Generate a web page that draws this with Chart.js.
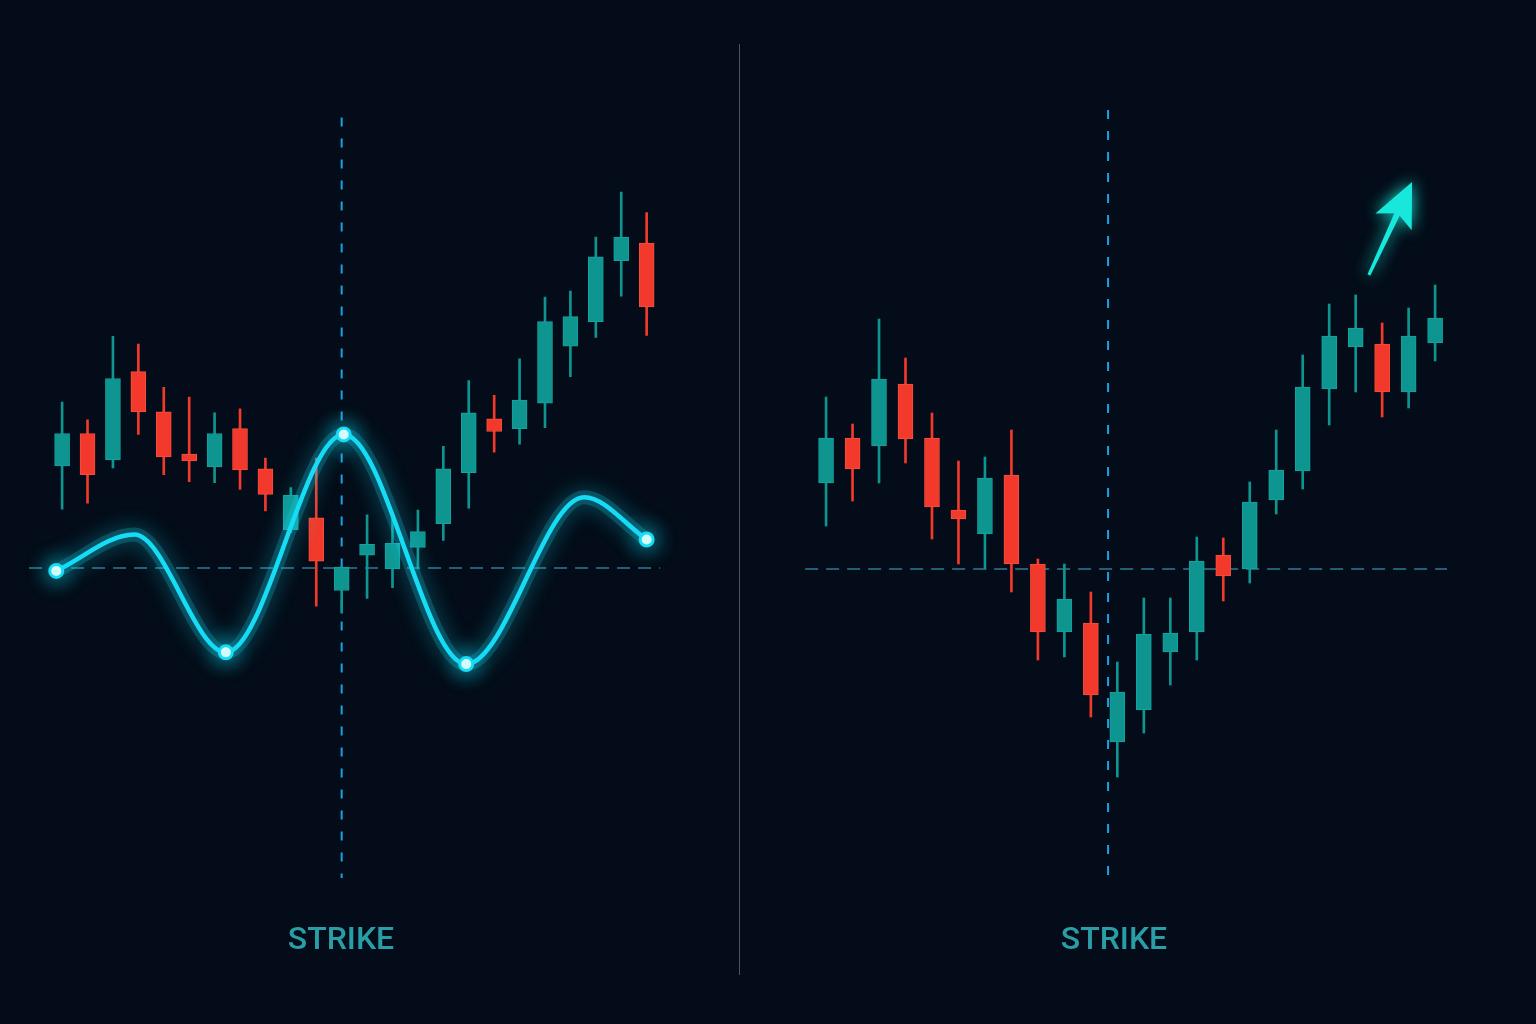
<!DOCTYPE html>
<html>
<head>
<meta charset="utf-8">
<title>Strike</title>
<script src="https://cdn.jsdelivr.net/npm/chart.js@4.4.1/dist/chart.umd.min.js"></script>
<style>
    html, body { margin: 0; padding: 0; background: #030c18; }
    #wrap { position: relative; width: 1536px; height: 1024px; overflow: hidden; background: #030c18; }
    canvas { position: absolute; top: 0; }
    #left-chart { left: 0; }
    #right-chart { left: 740px; }
    .divider { position: absolute; left: 739px; top: 44px; width: 1px; height: 931px; background: #4b5466; }
    .label {
        position: absolute; top: 922px; width: 200px; text-align: center;
        font-family: Roboto, 'Open Sans', sans-serif; font-size: 32px; line-height: 32px; font-weight: 500;
        color: #2a9ea6; letter-spacing: 0px;
    }
</style>
</head>
<body>
<div id="wrap">
    <canvas id="left-chart" width="739" height="1024"></canvas>
    <div class="divider"></div>
    <canvas id="right-chart" width="796" height="1024"></canvas>
    <div class="label" style="left:241px">STRIKE</div>
    <div class="label" style="left:1014px">STRIKE</div>
</div>
<script>
// ============================================================================
// DATA (prices, strike = 100)
// ============================================================================
const STRIKE = 100;

// Left panel candles
const leftOpen  = [120.8, 127.4, 122.0, 140.0, 131.8, 123.2, 120.6, 128.4, 120.2, 107.8, 110.2, 95.4,
                   102.6, 99.8, 104.2, 109.0, 119.4, 130.4, 128.4, 133.6, 145.2, 150.2, 162.6, 166.2];
const leftHigh  = [133.8, 130.2, 147.2, 145.6, 136.8, 134.8, 131.6, 132.4, 122.4, 116.4, 122.4, 100.4,
                   110.8, 111.2, 111.8, 124.8, 138.2, 135.2, 142.6, 155.2, 156.4, 167.4, 176.6, 172.4];
const leftLow   = [112.0, 113.2, 120.4, 127.2, 119.0, 117.6, 117.4, 116.0, 111.6, 107.2, 92.2, 90.8,
                   93.8, 96.0, 99.8, 105.6, 112.2, 123.6, 125.2, 128.6, 139.0, 147.0, 155.4, 147.4];
const leftClose = [127.4, 119.0, 138.6, 131.8, 122.6, 121.8, 127.4, 120.0, 115.0, 114.8, 101.4, 100.2,
                   104.8, 105.0, 107.4, 120.2, 131.6, 127.8, 134.2, 150.2, 151.2, 163.4, 167.4, 153.2];

// Left panel oscillating curve (x in candle index units)
const curveX      = [-0.23, 2.84, 6.44, 11.08, 15.9, 20.54, 23.0];
const curveY      = [99.4, 106.8, 82.8, 127.2, 80.4, 114.4, 105.8];
const curveMarked = [true, false, true, true, true, false, true];

// Right panel candles
const rightOpen  = [117.2, 126.2, 124.6, 137.0, 126.2, 111.8, 107.0, 118.8, 101.0, 87.4, 89.2, 65.4,
                    71.8, 83.4, 87.4, 102.8, 100.0, 113.8, 119.6, 136.0, 144.4, 145.0, 135.4, 145.2];
const rightHigh  = [134.4, 129.0, 150.0, 142.2, 131.2, 121.6, 122.4, 127.8, 102.0, 101.0, 95.4, 81.4,
                    94.2, 94.2, 106.4, 106.2, 117.4, 127.8, 142.8, 153.0, 154.8, 149.2, 152.2, 156.8];
const rightLow   = [108.6, 113.6, 117.2, 121.2, 106.0, 101.0, 100.0, 95.4, 81.8, 82.4, 70.4, 58.4,
                    67.2, 76.8, 81.8, 93.6, 97.2, 111.0, 116.0, 128.8, 135.4, 130.4, 132.2, 141.6];
const rightClose = [126.2, 120.0, 138.0, 126.0, 112.4, 110.0, 118.2, 101.0, 87.4, 94.0, 74.8, 75.4,
                    87.0, 87.2, 101.6, 98.6, 113.4, 119.8, 136.4, 146.6, 148.2, 135.4, 146.6, 150.2];

// Trend arrow on the right panel: [index, price]
const arrowFrom = [20.5, 158.8];
const arrowTo   = [22.13, 177.4];

// ============================================================================
// Styling
// ============================================================================
const colors = {
    up: '#0f9590',
    upEdge: '#13a49f',
    down: '#f2392b',
    downEdge: '#f5503f',
    curve: '#16dcf6',
    strikeH: 'rgba(60, 160, 190, 0.75)',
    strikeV: '#1aa2e2',
    arrow: '#18e8dc'
};

// Price window shared by both panels
const Y_MIN = 9, Y_MAX = 213.8;
const STRIKE_TOP = 191.8, STRIKE_BOTTOM = 36.8;

// ============================================================================
// Plugins
// ============================================================================
const glowPlugin = {
    id: 'glow',
    beforeDatasetDraw(chart, args) {
        const ds = chart.data.datasets[args.index];
        if (!ds.glow) return;
        chart.ctx.save();
        chart.ctx.shadowColor = ds.glow;
        chart.ctx.shadowBlur = 22;
    },
    afterDatasetDraw(chart, args) {
        const ds = chart.data.datasets[args.index];
        if (ds.glow) chart.ctx.restore();
    }
};

const arrowPlugin = {
    id: 'trendArrow',
    afterDatasetsDraw(chart, args, opts) {
        if (!opts || !opts.from) return;
        const { x, y } = chart.scales;
        const x0 = x.getPixelForValue(opts.from[0]), y0 = y.getPixelForValue(opts.from[1]);
        const x1 = x.getPixelForValue(opts.to[0]), y1 = y.getPixelForValue(opts.to[1]);
        const len = Math.hypot(x1 - x0, y1 - y0);
        const ux = (x1 - x0) / len, uy = (y1 - y0) / len;
        const nx = -uy, ny = ux;
        const L = 44, W = 20;
        const ctx = chart.ctx;

        ctx.save();
        ctx.fillStyle = opts.color;
        ctx.shadowColor = opts.color;
        ctx.shadowBlur = 16;

        // shaft (slightly tapered)
        const bx = x1 - ux * L * 0.75, by = y1 - uy * L * 0.75;
        ctx.beginPath();
        ctx.moveTo(x0 + nx * 1.5, y0 + ny * 1.5);
        ctx.lineTo(bx + nx * 3, by + ny * 3);
        ctx.lineTo(bx - nx * 3, by - ny * 3);
        ctx.lineTo(x0 - nx * 1.5, y0 - ny * 1.5);
        ctx.closePath();
        ctx.fill();

        // head
        ctx.beginPath();
        ctx.moveTo(x1, y1);
        ctx.lineTo(x1 - ux * L + nx * W, y1 - uy * L + ny * W);
        ctx.lineTo(x1 - ux * L * 0.78, y1 - uy * L * 0.78);
        ctx.lineTo(x1 - ux * L - nx * W, y1 - uy * L - ny * W);
        ctx.closePath();
        ctx.fill();
        ctx.restore();
    }
};

// ============================================================================
// Dataset builders
// ============================================================================
function candleDatasets(open, high, low, close) {
    const up = open.map((o, i) => close[i] >= o);
    return [
        {
            type: 'bar',
            data: open.map((o, i) => ({ x: i, y: [low[i], high[i]] })),
            backgroundColor: up.map(u => u ? colors.up : colors.down),
            barThickness: 2,
            grouped: false,
            order: 4
        },
        {
            type: 'bar',
            data: open.map((o, i) => ({ x: i, y: [o, close[i]] })),
            backgroundColor: up.map(u => u ? colors.up : colors.down),
            borderColor: up.map(u => u ? colors.upEdge : colors.downEdge),
            borderWidth: 1,
            borderSkipped: false,
            barThickness: 15,
            grouped: false,
            order: 3
        }
    ];
}

function strikeDatasets(strikeIndex, fromIndex, toIndex) {
    return [
        {
            type: 'line',
            data: [{ x: fromIndex, y: STRIKE }, { x: toIndex, y: STRIKE }],
            borderColor: colors.strikeH,
            borderWidth: 1.5,
            borderDash: [13, 8],
            pointRadius: 0,
            order: 6
        },
        {
            type: 'line',
            data: [{ x: strikeIndex, y: STRIKE_TOP }, { x: strikeIndex, y: STRIKE_BOTTOM }],
            borderColor: colors.strikeV,
            borderWidth: 2,
            borderDash: [9, 12],
            pointRadius: 0,
            order: 5
        }
    ];
}

function baseOptions(xMin, xMax, extraPlugins) {
    return {
        responsive: false,
        animation: false,
        devicePixelRatio: 1,
        layout: { padding: 0 },
        plugins: Object.assign({ legend: { display: false }, tooltip: { enabled: false } }, extraPlugins || {}),
        scales: {
            x: { type: 'linear', min: xMin, max: xMax, offset: false, display: false },
            y: { type: 'linear', min: Y_MIN, max: Y_MAX, display: false }
        }
    };
}

// ============================================================================
// Left chart
// ============================================================================
const curvePoints = curveX.map((x, i) => ({ x: x, y: curveY[i] }));

new Chart(document.getElementById('left-chart'), {
    type: 'bar',
    data: {
        datasets: [
            ...strikeDatasets(11.0, -1.3, 23.53),
            ...candleDatasets(leftOpen, leftHigh, leftLow, leftClose),
            {
                // soft halo under the curve
                type: 'line',
                data: curvePoints,
                borderColor: 'rgba(22, 220, 246, 0.22)',
                borderWidth: 14,
                cubicInterpolationMode: 'monotone',
                pointRadius: 0,
                clip: false,
                order: 2
            },
            {
                type: 'line',
                data: curvePoints,
                borderColor: colors.curve,
                borderWidth: 4.5,
                cubicInterpolationMode: 'monotone',
                pointRadius: curveMarked.map(m => m ? 6.5 : 0),
                pointBackgroundColor: '#f0ffff',
                pointBorderColor: colors.curve,
                pointBorderWidth: 3,
                glow: colors.curve,
                clip: false,
                order: 1
            }
        ]
    },
    options: baseOptions(-2.07, 26.26),
    plugins: [glowPlugin]
});

// ============================================================================
// Right chart
// ============================================================================
new Chart(document.getElementById('right-chart'), {
    type: 'bar',
    data: {
        datasets: [
            ...strikeDatasets(10.65, -0.79, 23.45),
            ...candleDatasets(rightOpen, rightHigh, rightLow, rightClose)
        ]
    },
    options: baseOptions(-3.25, 26.81, {
        trendArrow: { from: arrowFrom, to: arrowTo, color: colors.arrow }
    }),
    plugins: [glowPlugin, arrowPlugin]
});
</script>
</body>
</html>
